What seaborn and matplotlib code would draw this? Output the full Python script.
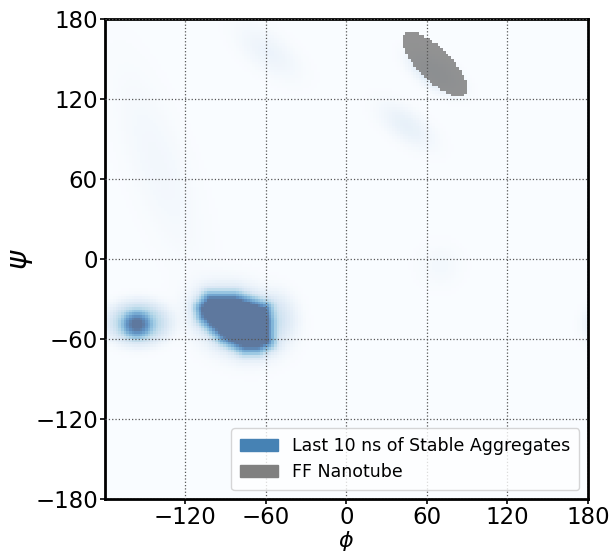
import numpy as np
import pandas as pd
import seaborn as sns
import matplotlib.pyplot as plt
from matplotlib.colors import ListedColormap
from matplotlib.patches import Patch
from matplotlib.path import Path

# outline of the saturated core of the big blob (phi, psi in degrees)
core_phi = [-107, -101.8, -83.1, -60.8, -59.3, -59.3, -66, -75.7, -90.6, -105.5]
core_psi = [-37, -30.3, -30.3, -37.8, -46.8, -61.8, -65.5, -65.5, -58, -43]

# extra density components (halos, small blob, faint spots), peak in counts per bin
blob_phi = [-156, -155, -82, -52, 45, -58, -140, 66, 183, 70]
blob_psi = [-49, -48, -46, -45, 100, 155, 70, 140, -50, -5]
blob_sd_phi = [4, 10, 16, 8, 12, 14, 20, 10, 5, 10]
blob_sd_psi = [3.5, 7, 13, 10, 10, 12, 45, 8, 8, 10]
blob_corr = [0, 0, -0.2, 0, -0.6, -0.6, -0.7, -0.6, 0, 0]
blob_peak = [1500, 40, 10, 5, 1.6, 1.0, 0.5, 6, 1.5, 0.4]

# FF nanotube region: centre, spreads, correlation (drawn out to 2 sd)
tube_phi, tube_psi = 66, 146
tube_sd_phi, tube_sd_psi, tube_corr = 12.0, 12.0, -0.74

ticks = [-180, -120, -60, 0, 60, 120, 180]


def mahal(phi, psi, mx, my, sx, sy, rho):
    dx = (phi - mx) / sx
    dy = (psi - my) / sy
    return (dx ** 2 - 2 * rho * dx * dy + dy ** 2) / (1 - rho ** 2)


def dist_to_outline(px, py, vx, vy):
    vx = np.asarray(vx + vx[:1], float)
    vy = np.asarray(vy + vy[:1], float)
    d = np.full(px.shape, np.inf)
    for i in range(len(vx) - 1):
        ax_, ay_, bx, by = vx[i], vy[i], vx[i + 1], vy[i + 1]
        t = ((px - ax_) * (bx - ax_) + (py - ay_) * (by - ay_)) / ((bx - ax_) ** 2 + (by - ay_) ** 2)
        t = np.clip(t, 0, 1)
        d = np.minimum(d, np.hypot(px - ax_ - t * (bx - ax_), py - ay_ - t * (by - ay_)))
    inside = Path(np.column_stack([vx, vy])).contains_points(np.column_stack([px.ravel(), py.ravel()]))
    d[inside.reshape(px.shape)] = 0
    return d


centres = np.arange(-179, 180, 2)
P, S = np.meshgrid(centres, centres)
P = P.astype(float)
S = S.astype(float)

d_core = dist_to_outline(P, S, core_phi, core_psi)
dens = 1.0 + 10 ** (3.2 - d_core / 3.0) + 10 ** (1.8 - d_core / 6.0)
for mx, my, sx, sy, r, a in zip(blob_phi, blob_psi, blob_sd_phi, blob_sd_psi,
                                blob_corr, blob_peak):
    dens += a * np.exp(-mahal(P, S, mx, my, sx, sy, r) / 2)

q_tube = mahal(P, S, tube_phi, tube_psi, tube_sd_phi, tube_sd_psi, tube_corr)

df = pd.DataFrame({'phi': P.ravel(), 'psi': S.ravel(),
                   'logd': np.log10(dens).ravel(),
                   'tube': (q_tube <= 4).astype(float).ravel()})

sns.set_style('ticks')
plt.rcParams['font.family'] = ['DejaVu Sans']
plt.rcParams.update({'text.color': 'k', 'axes.labelcolor': 'k',
                     'xtick.color': 'k', 'ytick.color': 'k'})
fig, ax = plt.subplots(figsize=(6.13, 5.58), dpi=100)
fig.subplots_adjust(left=0.171, right=0.959, top=0.966, bottom=0.106)

sns.histplot(data=df, x='phi', y='psi', weights='logd', bins=180,
             binrange=((-180, 180), (-180, 180)), thresh=None,
             cmap='Blues', vmin=0, vmax=3, alpha=0.65, ax=ax)
sns.histplot(data=df, x='phi', y='psi', weights='tube', bins=180,
             binrange=((-180, 180), (-180, 180)), thresh=0.5,
             cmap=ListedColormap(['#808080']), alpha=0.85, ax=ax)

ax.set_xlim(-180, 180)
ax.set_ylim(-180, 180)
ax.set_xticks(ticks[1:])
ax.set_yticks(ticks)
ax.tick_params(labelsize=16.5, length=3.5, width=1.2, color='k', pad=1.5)
ax.grid(True, linestyle=':', color='#555555', lw=0.9)
ax.set_axisbelow(False)
for sp in ax.spines.values():
    sp.set_visible(True)
    sp.set_color('k')
    sp.set_linewidth(2)

ax.set_xlabel(r'$\phi$', fontsize=16, labelpad=0)
ax.set_ylabel(r'$\psi$', fontsize=21, labelpad=0)

handles = [Patch(color='steelblue', label='Last 10 ns of Stable Aggregates'),
           Patch(color='gray', label='FF Nanotube')]
ax.legend(handles=handles, loc='lower right', fontsize=12.5, frameon=True,
          handlelength=2.2, borderpad=0.5)

fig.savefig('out.png', dpi=100)
